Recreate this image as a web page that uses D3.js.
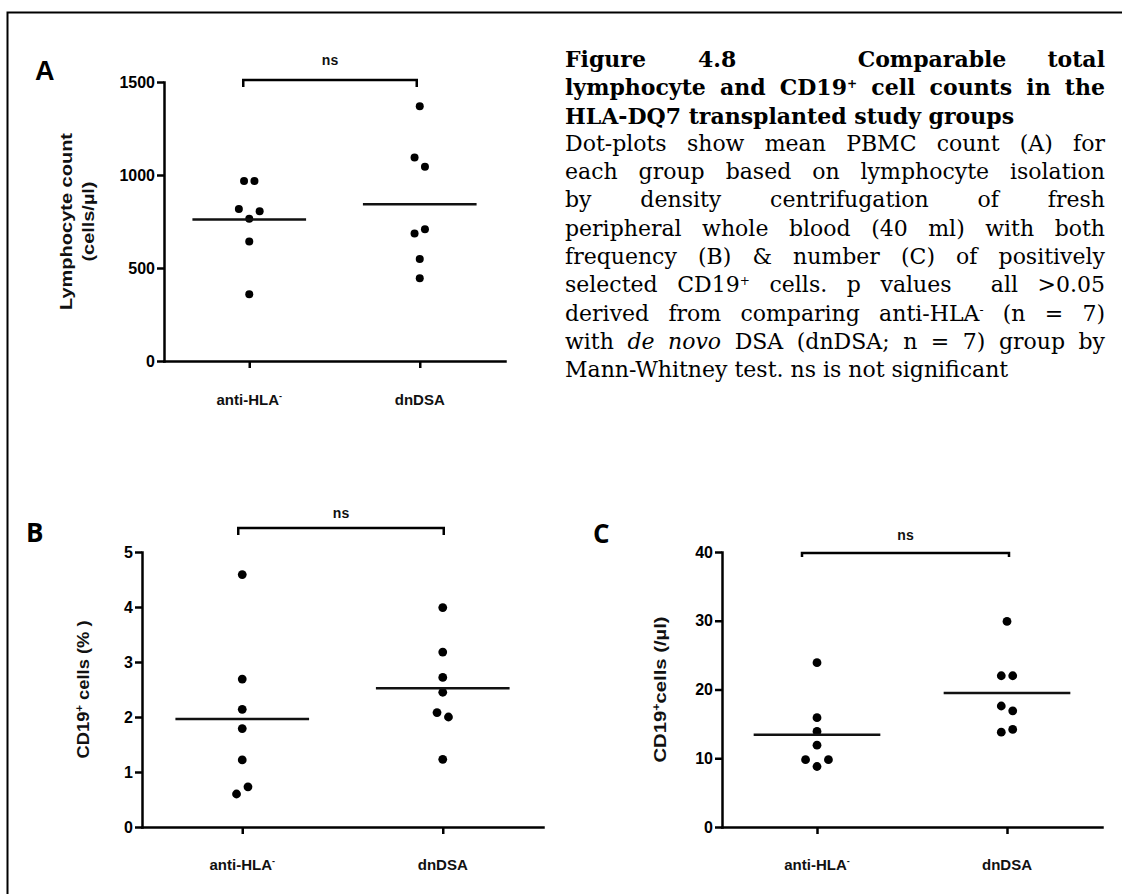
<!DOCTYPE html>
<html>
<head>
<meta charset="utf-8">
<script src="https://cdn.jsdelivr.net/npm/d3@7"></script>
<style>
  html, body { margin: 0; padding: 0; background: #fff; }
  #wrap { position: relative; width: 1122px; height: 894px; overflow: hidden; }
  #wrap svg { position: absolute; left: 0; top: 0; }
  .caption { position: absolute; left: 565px; top: 45px; width: 540px;
    font-family: "DejaVu Serif", serif; font-size: 22px; line-height: 28.3px; color: #000; }
  .caption .ln { text-align: justify; text-align-last: justify; }
  .caption .ln.last { text-align-last: left; }
  .caption .ln.b { font-weight: bold; }
  .caption .ln.head { display: flex; }
  .caption .head span:nth-child(2) { margin-left: 52px; }
  .caption .head span:nth-child(3) { margin-left: auto; }
  .caption .head span:nth-child(4) { margin-left: 41px; }
  .caption sup { font-size: 55%; line-height: 0; vertical-align: 0.55em; }
</style>
</head>
<body>
<div id="wrap"></div>
<script>
// groups on the x axis
const groups = ['anti-HLA', 'dnDSA']

// A: lymphocyte count (cells/µl)
const lymphAnti = [968, 968, 817, 805, 765, 643, 359]
const lymphDn = [1369, 1094, 1045, 686, 708, 548, 445]
const lymphTicks = [0, 500, 1000, 1500]

// B: CD19+ cells (%)
const pctAnti = [4.59, 2.69, 2.14, 1.79, 1.22, 0.60, 0.73]
const pctDn = [3.99, 3.18, 2.72, 2.45, 2.08, 2.00, 1.23]
const pctTicks = [0, 1, 2, 3, 4, 5]

// C: CD19+ cells (/µl)
const countAnti = [23.9, 15.9, 13.9, 11.9, 9.8, 9.8, 8.8]
const countDn = [29.9, 22, 22, 17.6, 16.9, 13.8, 14.2]
const countTicks = [0, 10, 20, 30, 40]

const sigLabel = 'ns'

const captionLines = [
    'lymphocyte and CD19<sup>+</sup> cell counts in the',
    'HLA-DQ7 transplanted study groups',
    'Dot-plots show mean PBMC count (A) for',
    'each group based on lymphocyte isolation',
    'by density centrifugation of fresh',
    'peripheral whole blood (40 ml) with both',
    'frequency (B) &amp; number (C) of positively',
    'selected CD19<sup>+</sup> cells. p values &nbsp;all &gt;0.05',
    'derived from comparing anti-HLA<sup>-</sup> (n = 7)',
    'with <i>de novo</i> DSA (dnDSA; n = 7) group by',
    'Mann-Whitney test. ns is not significant'
]
const captionHead = ['Figure', '4.8', 'Comparable', 'total']

// layout of the three panels
const panels = [
    {
        letter: 'A', letterFont: 'Liberation Sans', letterSize: 27, lx: 35, ly: 80,
        series: [lymphAnti, lymphDn], ticks: lymphTicks,
        left: 164, right: 505, top: 82, bottom: 361, r: 4,
        titles: [
            { x: 72, len: 177, parts: [['Lymphocyte count']] },
            { x: 94, len: 80, parts: [['(cells/µl)']] }
        ],
        bracketY: 80, bracketDrop: 7, bracketDx: [-6, -3], nsY: 65, labelY: 405
    },
    {
        letter: 'B', letterFont: 'Open Sans', letterSize: 26, lx: 26, ly: 542,
        series: [pctAnti, pctDn], ticks: pctTicks,
        left: 142, right: 543, top: 552, bottom: 827, r: 4.4,
        titles: [
            { x: 89, len: 138, parts: [['CD19'], ['+', true], [' cells (% )']] }
        ],
        bracketY: 528, bracketDrop: 7, bracketDx: [-4, 1], nsY: 518, labelY: 870
    },
    {
        letter: 'C', letterFont: 'Open Sans', letterSize: 26, lx: 593, ly: 543,
        series: [countAnti, countDn], ticks: countTicks,
        left: 722, right: 1102, top: 552, bottom: 827, r: 4.4,
        titles: [
            { x: 666, len: 146, parts: [['CD19'], ['+', true], ['cells (/µl)']] }
        ],
        bracketY: 553, bracketDrop: 4, bracketDx: [-15, 2], nsY: 540, labelY: 870
    }
]

// spread points that would overlap, GraphPad style
const spread = (values, y, r) => {
    const step = r * 2.6
    const idx = d3.range(values.length).sort((a, b) => values[a] - values[b])
    const clusters = []
    idx.forEach((i, k) => {
        if (k > 0 && Math.abs(y(values[i]) - y(values[idx[k - 1]])) < step) {
            clusters[clusters.length - 1].push(i)
        } else {
            clusters.push([i])
        }
    })
    const off = values.map(() => 0)
    clusters.forEach(c => {
        c.sort((a, b) => a - b)
        const n = c.length
        const pattern = n === 1 ? [0]
            : n === 2 ? [-step / 2, step / 2]
            : n === 3 ? [-step, step, 0]
            : c.map((_, j) => (j - (n - 1) / 2) * step)
        c.forEach((i, j) => { off[i] = pattern[j] })
    })
    return off
}

const wrap = d3.select('#wrap')
const svg = wrap.append('svg').attr('width', 1122).attr('height', 894)

// frame
svg.append('path')
    .attr('d', 'M7.5,900 V12.5 H1130')
    .attr('fill', 'none').attr('stroke', '#000').attr('stroke-width', 2)

const drawPanel = p => {
    const g = svg.append('g')
    const x = d3.scalePoint().domain(groups).range([p.left, p.right]).padding(0.5)
    const y = d3.scaleLinear().domain(d3.extent(p.ticks)).range([p.bottom, p.top])
    const half = x.step() / 3

    // axes
    const yAxis = g.append('g')
        .attr('transform', `translate(${p.left},0)`)
        .call(d3.axisLeft(y).tickValues(p.ticks).tickFormat(d3.format('d'))
            .tickSize(7).tickSizeOuter(0).tickPadding(2))
    const xAxis = g.append('g')
        .attr('transform', `translate(0,${p.bottom})`)
        .call(d3.axisBottom(x).tickSize(7).tickSizeOuter(0).tickFormat(''))
    ;[yAxis, xAxis].forEach(a => {
        a.selectAll('path, line').attr('stroke', '#000').attr('stroke-width', 2.5)
        a.select('path.domain').attr('stroke-linecap', 'square')
    })
    yAxis.selectAll('text')
        .attr('font-family', 'Liberation Sans, Arial, sans-serif')
        .attr('font-weight', 'bold').attr('font-size', 16).attr('fill', '#000')

    // group labels
    groups.forEach((grp, i) => {
        const t = g.append('text')
            .attr('x', x(grp)).attr('y', p.labelY)
            .attr('text-anchor', 'middle')
            .attr('font-family', 'Liberation Sans, Arial, sans-serif')
            .attr('font-weight', 'bold').attr('font-size', 15).attr('fill', '#111')
        t.append('tspan').text(grp)
        if (i === 0) {
            t.append('tspan').text('-').attr('font-size', 9).attr('dy', -6)
        }
    })

    // axis titles
    p.titles.forEach(tt => {
        const cy = (p.top + p.bottom) / 2
        const t = g.append('text')
            .attr('transform', `translate(${tt.x},${cy}) rotate(-90)`)
            .attr('text-anchor', 'middle')
            .attr('textLength', tt.len).attr('lengthAdjust', 'spacingAndGlyphs')
            .attr('font-family', 'Liberation Sans, Arial, sans-serif')
            .attr('font-weight', 'bold').attr('font-size', 16).attr('fill', '#111')
        tt.parts.forEach(([s, sup]) => {
            const sp = t.append('tspan').text(s)
            if (sup) sp.attr('font-size', 10).attr('baseline-shift', '60%')
        })
    })

    // points and mean lines
    p.series.forEach((vals, i) => {
        const cx = x(groups[i])
        const off = spread(vals, y, p.r)
        g.append('g').selectAll('circle').data(vals).enter()
            .append('circle')
            .attr('cx', (d, j) => cx + off[j])
            .attr('cy', d => y(d))
            .attr('r', p.r)
            .attr('fill', '#000')
        const m = d3.mean(vals)
        g.append('line')
            .attr('x1', cx - half).attr('x2', cx + half)
            .attr('y1', y(m)).attr('y2', y(m))
            .attr('stroke', '#111').attr('stroke-width', 2.5)
    })

    // significance bracket
    const bx1 = x(groups[0]) + p.bracketDx[0]
    const bx2 = x(groups[1]) + p.bracketDx[1]
    g.append('path')
        .attr('d', `M${bx1},${p.bracketY + p.bracketDrop} V${p.bracketY} H${bx2} V${p.bracketY + p.bracketDrop}`)
        .attr('fill', 'none').attr('stroke', '#000').attr('stroke-width', 2.5)
    g.append('text')
        .attr('x', (bx1 + bx2) / 2).attr('y', p.nsY)
        .attr('text-anchor', 'middle')
        .attr('font-family', 'Liberation Sans, Arial, sans-serif')
        .attr('font-weight', 'bold').attr('font-size', 14).attr('fill', '#111')
        .text(sigLabel)

    // panel letter
    g.append('text')
        .attr('x', p.lx).attr('y', p.ly)
        .attr('font-family', p.letterFont)
        .attr('font-weight', 'bold').attr('font-size', p.letterSize).attr('fill', '#000')
        .text(p.letter)
}

panels.forEach(drawPanel)

// caption
const cap = wrap.append('div').attr('class', 'caption')
const head = cap.append('div').attr('class', 'ln b head')
captionHead.forEach(w => head.append('span').html(w))
captionLines.forEach((l, i) => {
    cap.append('div')
        .attr('class', 'ln' + (i < 2 ? ' b' : '') + (i === 1 || i === captionLines.length - 1 ? ' last' : ''))
        .html(l)
})
</script>
</body>
</html>
